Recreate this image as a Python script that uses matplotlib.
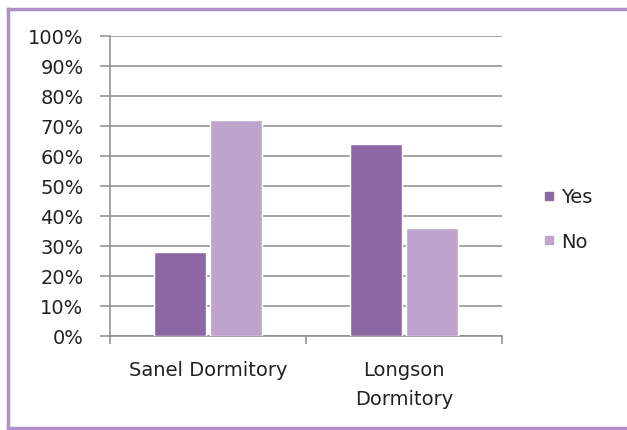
import matplotlib
matplotlib.use("Agg")
import matplotlib.pyplot as plt
from matplotlib.lines import Line2D
from matplotlib.ticker import FixedLocator

# --- data ---
categories = ["Sanel Dormitory", "Longson\nDormitory"]
series_names = ["Yes", "No"]
yes_values = [28, 64]
no_values = [72, 36]
y_ticks = [0, 10, 20, 30, 40, 50, 60, 70, 80, 90, 100]

YES_COLOR = "#8C67A3"
NO_COLOR = "#BEA3CD"
BORDER = "#B08FCB"
GRID = "#8C8C8C"
TEXT = "#222222"
FS = 14

plt.rcParams["font.family"] = ["DejaVu Sans"]

fig = plt.figure(figsize=(6.27, 4.31), dpi=100)
ax = fig.add_axes([110 / 627, 1 - 337 / 431, 392 / 627, 300 / 431])

x = list(range(len(categories)))
w = 0.27
off = 0.143
ax.bar([i - off for i in x], yes_values, width=w, color=YES_COLOR,
       edgecolor="white", linewidth=1, zorder=3, label=series_names[0])
ax.bar([i + off for i in x], no_values, width=w, color=NO_COLOR,
       edgecolor="white", linewidth=1, zorder=3, label=series_names[1])

ax.set_xlim(-0.5, len(categories) - 0.5)
ax.set_ylim(0, 100)
ax.set_yticks(y_ticks)
ax.set_yticklabels([f"{v}%" for v in y_ticks])
ax.yaxis.grid(True, color=GRID, linewidth=1.1, zorder=0)
ax.set_axisbelow(True)

# x ticks at category boundaries, labels at centres
ax.xaxis.set_major_locator(FixedLocator([-0.5, 0.5, 1.5]))
ax.set_xticklabels([])
ax.xaxis.set_minor_locator(FixedLocator(x))
ax.set_xticklabels(categories, minor=True, linespacing=1.7)
ax.tick_params(axis="x", which="major", length=6, color=GRID, width=1.1)
ax.tick_params(axis="x", which="minor", length=0, pad=17, labelsize=FS, labelcolor=TEXT)
ax.tick_params(axis="y", length=7, color=GRID, width=1.1, pad=12, labelsize=FS, labelcolor=TEXT)

for s in ["top", "right"]:
    ax.spines[s].set_visible(False)
for s in ["left", "bottom"]:
    ax.spines[s].set_color(GRID)
    ax.spines[s].set_linewidth(1.1)

handles = [Line2D([], [], marker="s", linestyle="", markersize=6, color=YES_COLOR),
           Line2D([], [], marker="s", linestyle="", markersize=6, color=NO_COLOR)]
fig.legend(handles, series_names, loc="center left", bbox_to_anchor=(522 / 627, 1 - 220 / 431),
           frameon=False, fontsize=FS, labelspacing=1.3, handletextpad=0.1, handlelength=1.0,
           labelcolor=TEXT)

# purple frame around the chart (right side cut off in the reference)
fig.add_artist(Line2D([8 / 627, 8 / 627], [1 - 429 / 431, 1 - 10 / 431], color=BORDER, lw=2.5,
                      transform=fig.transFigure))
fig.add_artist(Line2D([8 / 627, 1], [1 - 10 / 431, 1 - 10 / 431], color=BORDER, lw=2.5,
                      transform=fig.transFigure))
fig.add_artist(Line2D([8 / 627, 1], [1 - 429 / 431, 1 - 429 / 431], color=BORDER, lw=2.5,
                      transform=fig.transFigure))

fig.savefig("out.png", dpi=100)
